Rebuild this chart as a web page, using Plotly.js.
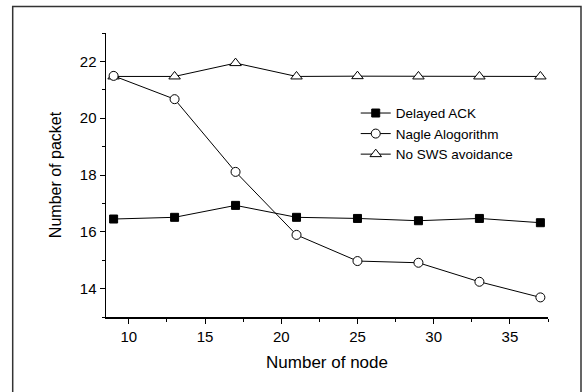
<!DOCTYPE html>
<html>
<head>
<meta charset="utf-8">
<script src="https://cdn.plot.ly/plotly-3.0.1.min.js"></script>
<style>html,body{margin:0;padding:0;background:#fff;}#chart{width:585px;height:392px;}</style>
</head>
<body>
<div id="chart"></div>
<script>
const nodes = [9, 13, 17, 21, 25, 29, 33, 37];
const delayedAck = [16.45, 16.51, 16.93, 16.51, 16.47, 16.39, 16.47, 16.32];
const nagle = [21.49, 20.67, 18.11, 15.89, 14.97, 14.91, 14.24, 13.69];
const noSws = [21.47, 21.47, 21.94, 21.47, 21.48, 21.47, 21.47, 21.47];
const seriesNames = ['Delayed ACK', 'Nagle Alogorithm', 'No SWS avoidance'];
const xTicks = [10, 15, 20, 25, 30, 35];
const yTicks = [14, 16, 18, 20, 22];

const font = 'Arial, "Liberation Sans", sans-serif';
const lineStyle = {color: '#000', width: 1};
const traces = [
  {x: nodes, y: noSws, name: seriesNames[2], mode: 'lines+markers', line: lineStyle,
   marker: {symbol: 'triangle-up', size: 10, color: '#fff', line: {color: '#000', width: 1}}},
  {x: nodes, y: nagle, name: seriesNames[1], mode: 'lines+markers', line: lineStyle,
   marker: {symbol: 'circle', size: 9, color: '#fff', line: {color: '#000', width: 1}}},
  {x: nodes, y: delayedAck, name: seriesNames[0], mode: 'lines+markers', line: lineStyle,
   marker: {symbol: 'square', size: 8, color: '#000', line: {color: '#000', width: 1}}}
];

const layout = {
  width: 585, height: 392,
  margin: {l: 106, r: 37, t: 33, b: 75},
  paper_bgcolor: '#fff', plot_bgcolor: '#fff',
  showlegend: true,
  legend: {x: 0.565, y: 0.772, xanchor: 'left', yanchor: 'top', traceorder: 'reversed',
           font: {family: font, size: 13.5, color: '#000'}, bgcolor: 'rgba(0,0,0,0)',
           tracegroupgap: 0, itemwidth: 30},
  xaxis: {
    range: [8.5, 37.5], tickvals: xTicks, ticks: 'outside', ticklen: 5, tickwidth: 1,
    tickcolor: '#000', showline: true, linecolor: '#000', linewidth: 1.5,
    showgrid: false, zeroline: false, mirror: false,
    tickfont: {family: font, size: 15, color: '#000'},
    minor: {dtick: 2.5, tick0: 0, ticks: 'outside', ticklen: 3, tickcolor: '#000', showgrid: false},
    title: {text: 'Number of node', font: {family: font, size: 17, color: '#000'}, standoff: 12}
  },
  yaxis: {
    range: [13, 23], tickvals: yTicks, ticks: 'outside', ticklen: 5, tickwidth: 1,
    tickcolor: '#000', showline: true, linecolor: '#000', linewidth: 1.5,
    showgrid: false, zeroline: false, mirror: false,
    tickfont: {family: font, size: 15, color: '#000'},
    minor: {dtick: 1, tick0: 13, ticks: 'outside', ticklen: 3, tickcolor: '#000', showgrid: false},
    title: {text: 'Number of packet', font: {family: font, size: 16, color: '#000'}, standoff: 14}
  },
  shapes: [
    {type: 'rect', xref: 'paper', yref: 'paper',
     x0: (12.7 - 106) / 442, x1: (581 - 106) / 442,
     y0: (317 - 398) / 284, y1: (317 - 6.5) / 284,
     line: {color: '#333', width: 1.5}, fillcolor: 'rgba(0,0,0,0)', layer: 'below'}
  ]
};

Plotly.newPlot('chart', traces, layout, {displayModeBar: false, staticPlot: true});
</script>
</body>
</html>
